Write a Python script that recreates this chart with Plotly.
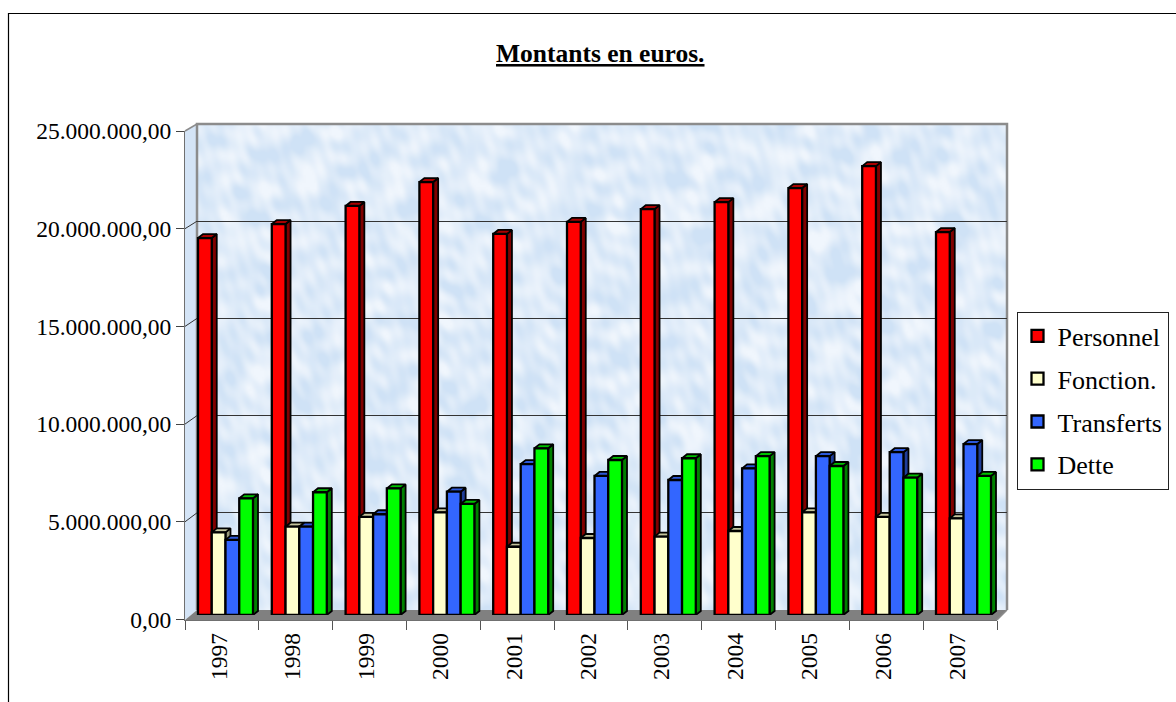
import base64, struct, zlib
import numpy as np
import plotly.graph_objects as go

years = [1997, 1998, 1999, 2000, 2001, 2002, 2003, 2004, 2005, 2006, 2007]
personnel = [19380000, 20100000, 21030000, 22260000, 19590000, 20210000, 20870000, 21230000, 21950000, 23080000, 19690000]
fonction = [4250000, 4540000, 5050000, 5280000, 3510000, 3960000, 4030000, 4320000, 5280000, 5050000, 4970000]
transferts = [3860000, 4540000, 5180000, 6340000, 7760000, 7150000, 6940000, 7540000, 8170000, 8370000, 8790000]
dette = [6000000, 6310000, 6510000, 5710000, 8570000, 7970000, 8060000, 8170000, 7660000, 7060000, 7150000]
y_ticks = [0, 5000000, 10000000, 15000000, 20000000, 25000000]
y_labels = ["0,00", "5.000.000,00", "10.000.000,00", "15.000.000,00", "20.000.000,00", "25.000.000,00"]
series_names = ["Personnel", "Fonction.", "Transferts", "Dette"]
series_values = [personnel, fonction, transferts, dette]
front_colors = ["#FF0000", "#FFFFCC", "#3366FF", "#00FF00"]
top_colors = ["#A80000", "#C4C49C", "#2C58D8", "#00C000"]
side_colors = ["#800000", "#99997A", "#1F3D99", "#008000"]

W, H = 1176, 702
FONT = "Liberation Serif"
px = lambda x: x / W
py = lambda y: 1 - y / H
BARGAP = 1 - 55 / 73.8
BW = (1 - BARGAP) / 4
DX = 5 / 73.8
DY = 4 / 19.45 * 1e6
LABEL_SHIFT = 3 / 73.8


def texture():
    # decorative mottled wall, not data
    h, w = 243, 405
    yy, xx = np.mgrid[0:h, 0:w].astype(float)
    n = np.zeros((h, w))
    for k in range(1, 25):
        ang = k * 2.39996
        wl = 5 + 30 * ((k * 0.618) % 1)
        warp = 1.8 * np.sin(xx / (23 + 3 * k) + k) + 1.8 * np.cos(yy / (19 + 2 * k) + 2 * k)
        n += np.sin((xx * np.cos(ang) + yy * np.sin(ang)) / wl * 2 * np.pi + warp + k * 1.3)
    n = n / np.abs(n).max()
    n = np.clip(n * 1.1 + 0.5, 0, 1)[..., None]
    a = np.array([207, 226, 246.0])
    b = np.array([240, 246, 253.0])
    img = (a + (b - a) * n).astype(np.uint8)
    raw = b"".join(b"\x00" + img[i].tobytes() for i in range(h))

    def chunk(t, d):
        return struct.pack(">I", len(d)) + t + d + struct.pack(">I", zlib.crc32(t + d))

    png = b"\x89PNG\r\n\x1a\n" + chunk(b"IHDR", struct.pack(">IIBBBBB", w, h, 8, 2, 0, 0, 0)) + chunk(b"IDAT", zlib.compress(raw)) + chunk(b"IEND", b"")
    return "data:image/png;base64," + base64.b64encode(png).decode()


fig = go.Figure()
# wall subplot: forces the gridline axes to exist
fig.add_trace(go.Scatter(x=years, y=personnel, xaxis="x", yaxis="y", mode="markers", marker=dict(opacity=0),
                         showlegend=False, hoverinfo="skip"))

# top and side faces, computed from the values in the bars' own data scale
for i, (vals, name) in enumerate(zip(series_values, series_names)):
    left = [yr - (1 - BARGAP) / 2 + i * BW for yr in years]
    tx, ty, sx, sy = [], [], [], []
    for l, v in zip(left, vals):
        r = l + BW
        tx += [l, l + DX, r + DX, r, l, None]
        ty += [v, v + DY, v + DY, v, v, None]
        sx += [r, r + DX, r + DX, r, r, None]
        sy += [0, DY, v + DY, v, 0, None]
    for fx, fy, col in ((sx, sy, side_colors[i]), (tx, ty, top_colors[i])):
        fig.add_trace(go.Scatter(x=fx, y=fy, xaxis="x2", yaxis="y2", mode="lines", fill="toself", fillcolor=col,
                                 line=dict(color="black", width=1.8), showlegend=False, hoverinfo="skip"))

for i, (vals, name) in enumerate(zip(series_values, series_names)):
    fig.add_trace(go.Bar(x=years, y=vals, name=name, xaxis="x3", yaxis="y3", legendgroup=name,
                         marker=dict(color=front_colors[i], line=dict(color="black", width=2.3))))

# front axes
fig.add_trace(go.Scatter(x=years, y=personnel, xaxis="x4", yaxis="y4", mode="markers", marker=dict(opacity=0),
                         showlegend=False, hoverinfo="skip"))

xr = [years[0] - 0.5, years[-1] + 0.5]
yr_ = [0, 25000000]
dom_bars_x = [px(188.6), px(1000.4)]
dom_bars_y = [py(615), py(128.75)]
hidden = dict(visible=False, fixedrange=True, automargin=False)

shapes = [
    # side wall
    dict(type="path", xref="paper", yref="paper", layer="below", line=dict(width=0), fillcolor="#D4E4F6",
         path=f"M{px(185)},{py(131)} L{px(197)},{py(124)} L{px(197)},{py(610)} L{px(185)},{py(620)} Z"),
    # floor
    dict(type="path", xref="paper", yref="paper", layer="below", line=dict(width=0), fillcolor="#808080",
         path=f"M{px(185)},{py(620)} L{px(197)},{py(610)} L{px(1007)},{py(610)} L{px(997)},{py(620)} Z"),
    # wall border
    dict(type="path", xref="paper", yref="paper", layer="below", line=dict(color="#8C8C8C", width=2.5),
         path=f"M{px(197)},{py(610)} L{px(197)},{py(124)} L{px(1007)},{py(124)} L{px(1007)},{py(610)}"),
    dict(type="line", xref="paper", yref="paper", layer="below", line=dict(color="#8C8C8C", width=1.5),
         x0=px(185), y0=py(131), x1=px(197), y1=py(124)),
    dict(type="line", xref="paper", yref="paper", layer="below", line=dict(color="#8C8C8C", width=1.5),
         x0=px(997), y0=py(620), x1=px(1007), y1=py(610)),
    # outer frame
    dict(type="path", xref="paper", yref="paper", layer="below", line=dict(color="black", width=1.2),
         path=f"M{px(8.5)},{py(702)} L{px(8.5)},{py(13.5)} L{px(1176)},{py(13.5)}"),
]
for v in y_ticks[1:-1]:
    f = v / y_ticks[-1]
    shapes.append(dict(type="line", xref="paper", yref="paper", layer="below", line=dict(color="#333333", width=1),
                       x0=px(185), y0=py(619.5 - 488.5 * f), x1=px(197), y1=py(610 - 486 * f)))

fig.update_layout(
    template="none",
    width=W, height=H, autosize=False,
    margin=dict(l=0, r=0, t=0, b=0, pad=0),
    paper_bgcolor="white", plot_bgcolor="rgba(0,0,0,0)",
    font=dict(family=FONT, color="black", size=23.5),
    barmode="group", bargap=BARGAP, bargroupgap=0,
    hovermode=False,
    shapes=shapes,
    images=[dict(source=texture(), xref="paper", yref="paper", x=px(197), y=py(124), sizex=px(1007) - px(197),
                 sizey=486 / H, sizing="stretch", layer="below", xanchor="left", yanchor="top")],
    annotations=[dict(text="<b><u>Montants en euros.</u></b>", xref="paper", yref="paper", x=px(600), y=py(53),
                      showarrow=False, xanchor="center", yanchor="middle", font=dict(family=FONT, size=25.5, color="black"))],
    legend=dict(x=px(1016.5), y=py(311.5), xanchor="left", yanchor="top", bgcolor="white", bordercolor="#222222",
                borderwidth=1, font=dict(family=FONT, size=26, color="black"), tracegroupgap=6,
                entrywidth=126, entrywidthmode="pixels",
                traceorder="grouped", itemclick=False, itemdoubleclick=False),
    # back wall gridlines
    xaxis=dict(domain=[px(197), px(1007)], range=xr, anchor="y", **hidden),
    yaxis=dict(domain=[py(610), py(124)], range=yr_, anchor="x", tickmode="array", tickvals=y_ticks[1:-1],
               showgrid=True, gridcolor="#333333", gridwidth=1, zeroline=False, showline=False, automargin=False,
               showticklabels=False, ticks="", fixedrange=True),
    # bar faces
    xaxis2=dict(domain=dom_bars_x, range=xr, anchor="y2", **hidden),
    yaxis2=dict(domain=dom_bars_y, range=yr_, anchor="x2", **hidden),
    # bar fronts
    xaxis3=dict(domain=dom_bars_x, range=xr, anchor="y3", **hidden),
    yaxis3=dict(domain=dom_bars_y, range=yr_, anchor="x3", **hidden),
    # front axes
    xaxis4=dict(domain=[px(185), px(997)], range=xr, anchor="y4", tickmode="array",
                tickvals=[y - LABEL_SHIFT for y in years],
                ticktext=[str(y) for y in years], tickangle=-90, ticks="", showline=True, linecolor="#707070",
                linewidth=1, showgrid=False, zeroline=False, fixedrange=True, ticklabelstandoff=3, automargin=False,
                tickfont=dict(family=FONT, size=23.5, color="black"),
                minor=dict(tickmode="array", tickvals=[years[0] - 0.5 + k for k in range(len(years) + 1)],
                           ticks="outside", ticklen=9, tickcolor="#555555", tickwidth=1)),
    yaxis4=dict(domain=[py(619.5), py(131)], range=yr_, anchor="x4", tickmode="array", tickvals=y_ticks,
                ticktext=y_labels, ticks="outside", ticklen=8, tickcolor="#444444", tickwidth=1, showline=True,
                linecolor="#707070", linewidth=1, showgrid=False, zeroline=False, fixedrange=True, ticklabelstandoff=0,
                automargin=False, tickfont=dict(family=FONT, size=23.5, color="black")),
)
fig.write_html("out.html", config=dict(displayModeBar=False),
               post_script="document.body.style.margin='0';document.documentElement.style.overflow='hidden';")
